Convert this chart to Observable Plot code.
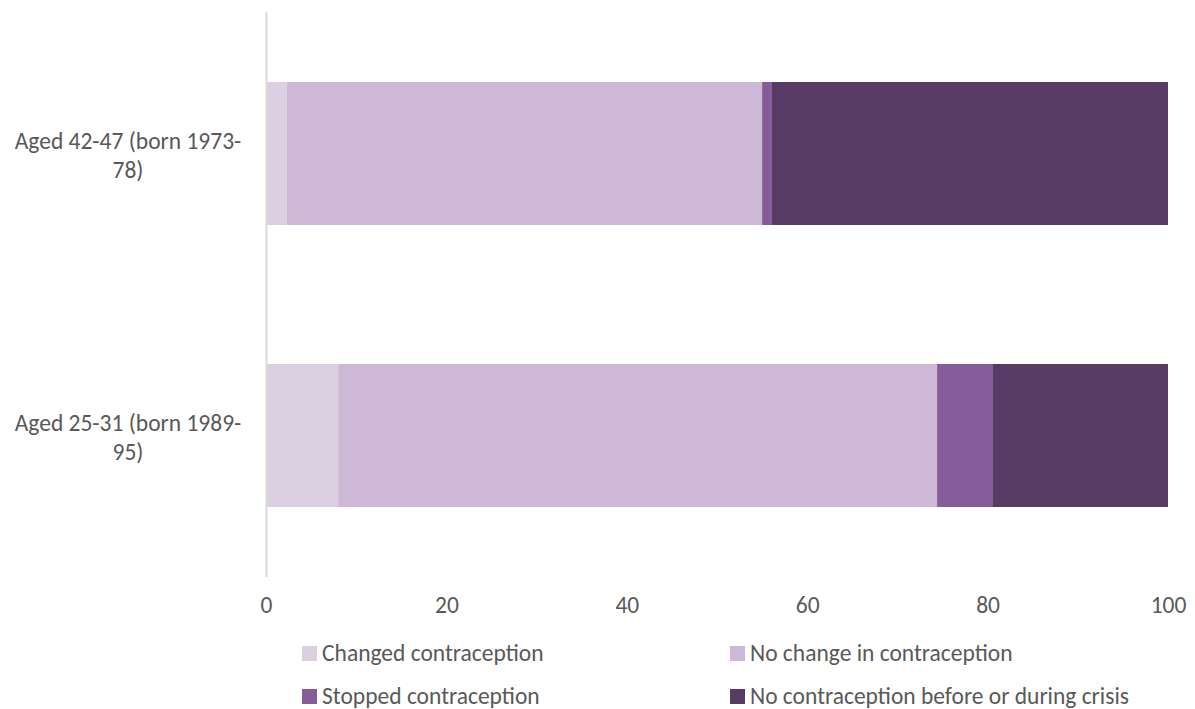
<!DOCTYPE html>
<html>
<head>
<meta charset="utf-8">
<script src="https://cdn.jsdelivr.net/npm/d3@7"></script>
<script src="https://cdn.jsdelivr.net/npm/@observablehq/plot@0.6"></script>
<style>
  body { margin: 0; background: #fff; font-family: Carlito, Lato, "Open Sans", sans-serif; }
  #chart { width: 1195px; height: 709px; position: relative; }
  .legend { position: absolute; left: 302px; top: 640px; display: grid; grid-template-columns: 428px 460px; row-gap: 17px; font-size: 23.5px; color: #595959; }
  .item { display: flex; align-items: center; height: 26px; }
  .sw { width: 15px; height: 15px; margin-right: 5px; display: inline-block; }
</style>
</head>
<body>
<div id="chart"></div>
<script>
const groups = ["Aged 42-47 (born 1973-78)", "Aged 25-31 (born 1989-95)"];
const groupLabels = ["Aged 42-47 (born 1973-\n78)", "Aged 25-31 (born 1989-\n95)"];
const series = ["Changed contraception", "No change in contraception", "Stopped contraception", "No contraception before or during crisis"];
const colors = ["#DBCFE2", "#CDB9D7", "#855C99", "#583B64"];
const values = {
  "Changed contraception": [2.3, 8.0],
  "No change in contraception": [52.7, 66.4],
  "Stopped contraception": [1.1, 6.2],
  "No contraception before or during crisis": [43.9, 19.4]
};
const xTicks = [0, 20, 40, 60, 80, 100];

const data = [];
series.forEach(s => groups.forEach((g, i) => data.push({group: g, series: s, value: values[s][i]})));

const labelMap = new Map(groups.map((g, i) => [g, groupLabels[i]]));

const plot = Plot.plot({
  width: 1195,
  height: 627,
  marginLeft: 266,
  marginRight: 27,
  marginTop: 12,
  marginBottom: 50,
  style: { fontFamily: "Carlito, Lato, 'Open Sans', sans-serif", fontSize: "23.5px", color: "#595959", background: "#fff" },
  x: { domain: [0, 100], ticks: xTicks },
  y: { domain: groups, paddingInner: 0.494, paddingOuter: 0.247 },
  color: { domain: series, range: colors },
  marks: [
    Plot.barX(data, Plot.stackX({ y: "group", x: "value", fill: "series", order: series })),
    Plot.ruleX([0], { stroke: "#D9D9D9", strokeWidth: 2, y1: null, y2: null }),
    Plot.axisX({ ticks: xTicks, tickSize: 0, tickPadding: 19, label: null, fontSize: 23.5, fill: "#595959" }),
    Plot.axisY({ tickSize: 0, label: null, tickFormat: d => labelMap.get(d), textAnchor: "middle", dx: -129.5, lineHeight: 1.25, fontSize: 23.5, fill: "#595959" })
  ]
});
document.getElementById("chart").appendChild(plot);

const legend = document.createElement("div");
legend.className = "legend";
series.forEach((s, i) => {
  const it = document.createElement("div");
  it.className = "item";
  it.innerHTML = `<span class="sw" style="background:${colors[i]}"></span><span>${s}</span>`;
  legend.appendChild(it);
});
document.getElementById("chart").appendChild(legend);
</script>
</body>
</html>
